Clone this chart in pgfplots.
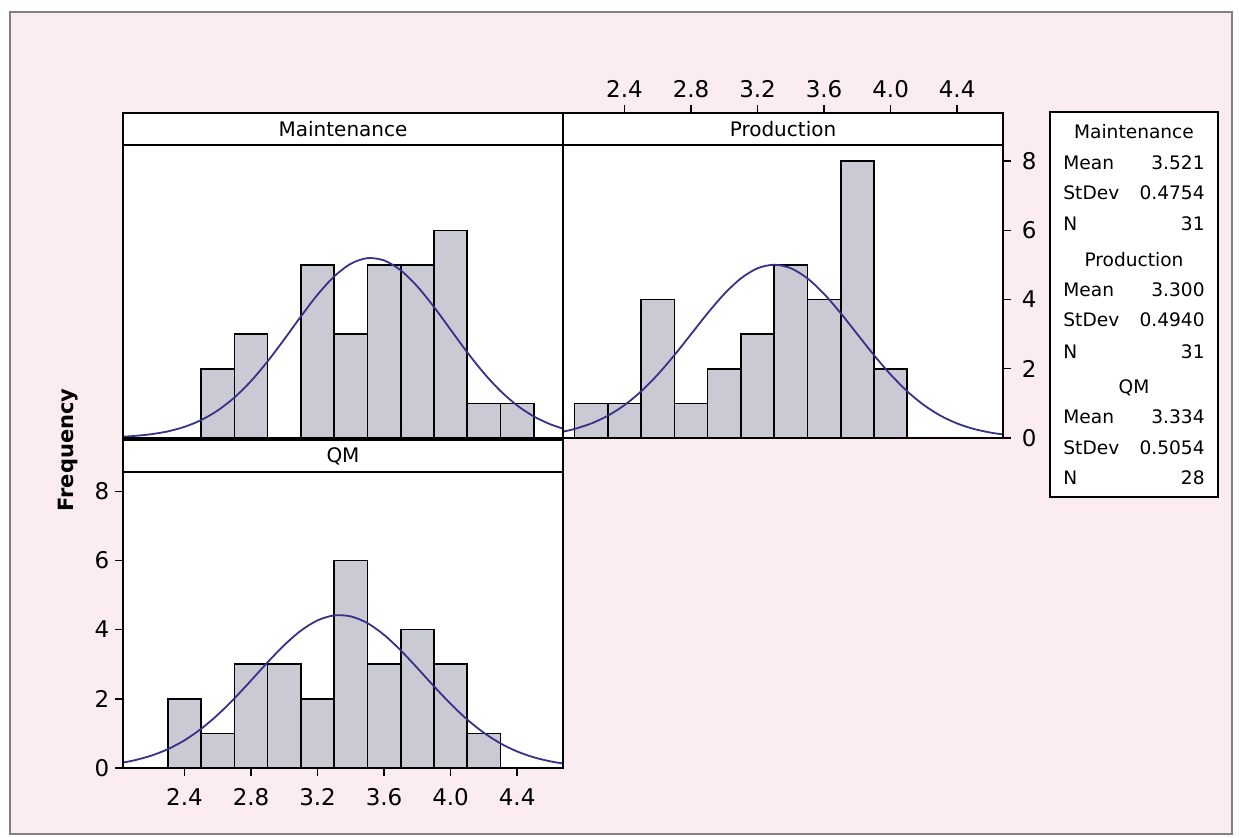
\documentclass[border=0pt]{standalone}
\usepackage{fontspec}
\setmainfont{DejaVu Sans}
\usepackage{pgfplots}
\pgfplotsset{compat=1.18}
\definecolor{bgpink}{RGB}{250,236,241}
\definecolor{barfill}{RGB}{202,202,212}
\definecolor{curvecol}{RGB}{55,50,135}
\pgfplotsset{
  panel/.style={
    scale only axis, width=220pt, height=162.5pt,
    xmin=2.03, xmax=4.676, ymin=0, ymax=9.393,
    axis background/.style={fill=white},
    axis line style={line width=0.85pt, black},
    tick style={line width=0.7pt, black},
    tick align=outside, major tick length=4pt,
    axis on top, clip=true,
    tick label style={font=\fontsize{11.5}{13}\selectfont, inner sep=1pt},
    /pgf/number format/assume math mode=true,
    xtick={2.4,2.8,3.2,3.6,4.0,4.4},
    xticklabels={2.4,2.8,3.2,3.6,4.0,4.4},
    ytick={0,2,4,6,8},
    yticklabels={0,2,4,6,8},
  },
  bars/.style={ybar, bar width=0.2, bar shift=0pt, fill=barfill, draw=black, line width=0.8pt},
  normcurve/.style={curvecol, line width=0.9pt, smooth, no marks},
}
\begin{document}
\begin{tikzpicture}
\fill[white] (0,0) rectangle (619.5pt,418.5pt);
\draw[gray, fill=bgpink, line width=0.6pt] (5pt,1.5pt) rectangle (616pt,412.5pt);

% Maintenance
\begin{axis}[panel, at={(61.5pt,199.5pt)}, anchor=south west, xtick=\empty, ytick=\empty]
\addplot[bars] coordinates {(2.6,2) (2.8,3) (3.0,0) (3.2,5) (3.4,3) (3.6,5) (3.8,5) (4.0,6) (4.2,1) (4.4,1)};
\addplot[normcurve] coordinates {
(2.03,0.038) (2.1,0.060) (2.2,0.110) (2.3,0.192) (2.4,0.323) (2.5,0.518) (2.6,0.797) (2.7,1.171) (2.8,1.647) (2.9,2.217) (3.0,2.854) (3.1,3.515) (3.2,4.142) (3.3,4.670) (3.4,5.037) (3.5,5.198) (3.6,5.132) (3.7,4.847) (3.8,4.380) (3.9,3.787) (4.0,3.132) (4.1,2.478) (4.2,1.876) (4.3,1.359) (4.4,0.942) (4.5,0.624) (4.6,0.396) (4.68,0.267)};
\draw[line width=0.85pt, fill=white] (rel axis cs:0,0.9015) rectangle (rel axis cs:1,1);
\node[font=\fontsize{10}{12}\selectfont] at (rel axis cs:0.5,0.9508) {Maintenance};
\end{axis}

% Production
\begin{axis}[panel, at={(281.5pt,199.5pt)}, anchor=south west,
  xtick pos=right, xticklabel pos=right, ytick pos=right, yticklabel pos=right,
  xticklabel style={yshift=2.6pt}, yticklabel style={xshift=4.2pt}]
\addplot[bars] coordinates {(2.2,1) (2.4,1) (2.6,4) (2.8,1) (3.0,2) (3.2,3) (3.4,5) (3.6,4) (3.8,8) (4.0,2)};
\addplot[normcurve] coordinates {
(2.03,0.184) (2.1,0.262) (2.2,0.420) (2.3,0.645) (2.4,0.952) (2.5,1.349) (2.6,1.835) (2.7,2.395) (2.8,3.000) (2.9,3.608) (3.0,4.164) (3.1,4.613) (3.2,4.906) (3.3,5.007) (3.4,4.906) (3.5,4.613) (3.6,4.164) (3.7,3.608) (3.8,3.000) (3.9,2.395) (4.0,1.835) (4.1,1.349) (4.2,0.952) (4.3,0.645) (4.4,0.420) (4.5,0.262) (4.6,0.157) (4.68,0.101)};
\draw[line width=0.85pt, fill=white] (rel axis cs:0,0.9015) rectangle (rel axis cs:1,1);
\node[font=\fontsize{10}{12}\selectfont] at (rel axis cs:0.5,0.9508) {Production};
\end{axis}

% QM
\begin{axis}[panel, at={(61.5pt,34.5pt)}, anchor=south west, height=164pt, ymax=9.48,
  xtick pos=left, xticklabel pos=left, ytick pos=left, yticklabel pos=left,
  xticklabel style={yshift=-5pt}, yticklabel style={xshift=-1.7pt}]
\addplot[bars] coordinates {(2.4,2) (2.6,1) (2.8,3) (3.0,3) (3.2,2) (3.4,6) (3.6,3) (3.8,4) (4.0,3) (4.2,1)};
\addplot[normcurve] coordinates {
(2.03,0.158) (2.1,0.224) (2.2,0.357) (2.3,0.545) (2.4,0.801) (2.5,1.133) (2.6,1.540) (2.7,2.012) (2.8,2.529) (2.9,3.057) (3.0,3.553) (3.1,3.971) (3.2,4.267) (3.3,4.410) (3.4,4.382) (3.5,4.188) (3.6,3.848) (3.7,3.401) (3.8,2.889) (3.9,2.361) (4.0,1.855) (4.1,1.401) (4.2,1.018) (4.3,0.711) (4.4,0.478) (4.5,0.309) (4.6,0.192) (4.68,0.127)};
\draw[line width=0.85pt, fill=white] (rel axis cs:0,0.9024) rectangle (rel axis cs:1,1);
\node[font=\fontsize{10}{12}\selectfont] at (rel axis cs:0.5,0.9512) {QM};
\end{axis}

% y label
\node[rotate=90, font=\bfseries\fontsize{10.5}{12}\selectfont] at (34pt,193.5pt) {Frequency};

% stats box
\draw[line width=0.7pt, fill=white] (525pt,170pt) rectangle (609pt,362.5pt);
\begin{scope}[every node/.style={font=\fontsize{9.3}{11}\selectfont, inner sep=0pt}]
\node at (567pt,352.5pt) {Maintenance};
\node[anchor=west] at (531.5pt,337pt) {Mean};   \node[anchor=east] at (602.5pt,337pt) {3.521};
\node[anchor=west] at (531.5pt,322pt) {StDev};  \node[anchor=east] at (602.5pt,322pt) {0.4754};
\node[anchor=west] at (531.5pt,306.5pt) {N};    \node[anchor=east] at (602.5pt,306.5pt) {31};
\node at (567pt,288.5pt) {Production};
\node[anchor=west] at (531.5pt,273.5pt) {Mean}; \node[anchor=east] at (602.5pt,273.5pt) {3.300};
\node[anchor=west] at (531.5pt,258.5pt) {StDev};\node[anchor=east] at (602.5pt,258.5pt) {0.4940};
\node[anchor=west] at (531.5pt,242.5pt) {N};    \node[anchor=east] at (602.5pt,242.5pt) {31};
\node at (567pt,224.5pt) {QM};
\node[anchor=west] at (531.5pt,210pt) {Mean};   \node[anchor=east] at (602.5pt,210pt) {3.334};
\node[anchor=west] at (531.5pt,194.5pt) {StDev};\node[anchor=east] at (602.5pt,194.5pt) {0.5054};
\node[anchor=west] at (531.5pt,179.5pt) {N};    \node[anchor=east] at (602.5pt,179.5pt) {28};
\end{scope}
\end{tikzpicture}
\end{document}
